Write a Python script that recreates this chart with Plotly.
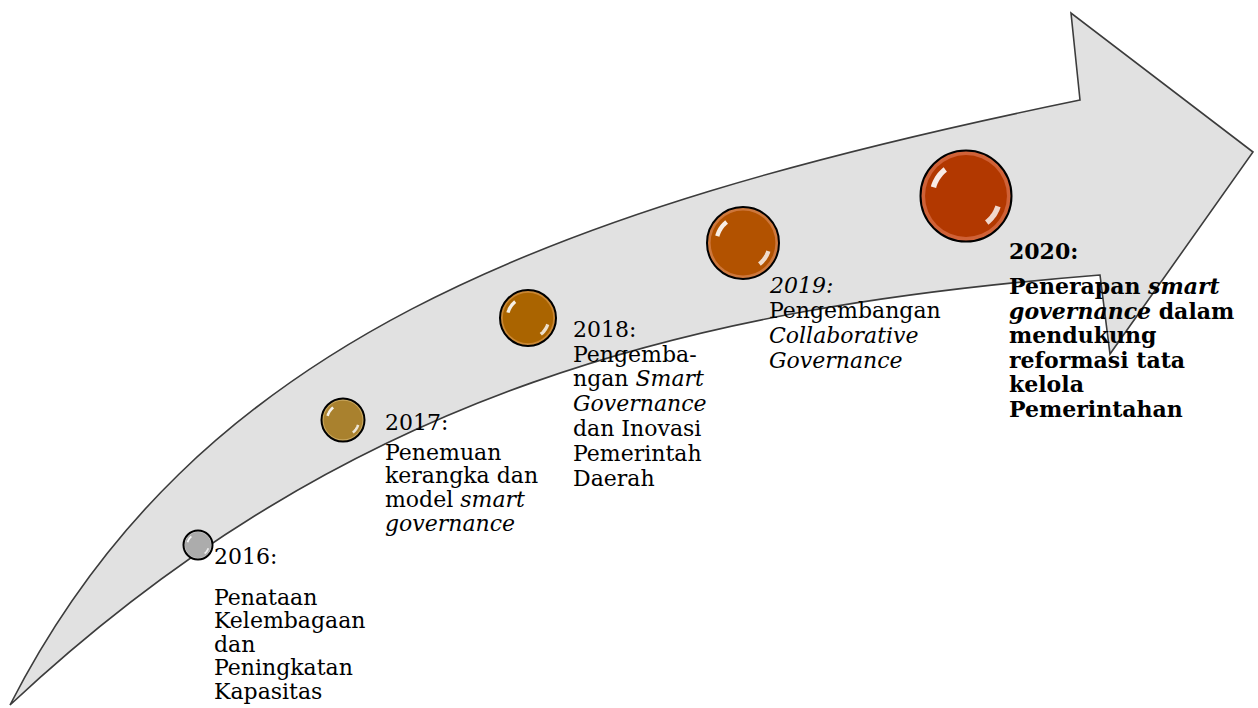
import numpy as np
import plotly.graph_objects as go

# ---------------- content ----------------
years = ["2016:", "2017:", "2018:", "<i>2019:</i>", "<b>2020:</b>"]
desc_2016 = ["Penataan", "Kelembagaan", "dan", "Peningkatan", "Kapasitas"]
desc_2017 = ["Penemuan", "kerangka dan", "model <i>smart</i>", "<i>governance</i>"]
desc_2018 = ["Pengemba-", "ngan <i>Smart</i>", "<i>Governance</i>", "dan Inovasi", "Pemerintah", "Daerah"]
desc_2019 = ["Pengembangan", "<i>Collaborative</i>", "<i>Governance</i>"]
desc_2020 = ["<b>Penerapan <i>smart</i></b>", "<b><i>governance</i> dalam</b>", "<b>mendukung</b>",
             "<b>reformasi tata</b>", "<b>kelola</b>", "<b>Pemerintahan</b>"]
descriptions = [desc_2016, desc_2017, desc_2018, desc_2019, desc_2020]

# ---------------- layout / style ----------------
W, H = 1258, 708
FONT = "DejaVu Serif"
FS = 22

sphere_x = [198, 343, 528, 743, 966]
sphere_y = [545, 420, 318, 243, 196]
sphere_r = [14.5, 21.5, 28, 36, 45.5]
sphere_col = ["#acacac", "#a9812e", "#aa6400", "#b25200", "#b23800"]
sphere_rim = ["#d6d6d6", "#caa85e", "#cc8a38", "#d07a40", "#d2643a"]

text_x = [212, 383, 571, 767, 1007]
year_y = [556, 422, 329, 285, 251]
desc_y0 = [597, 452, 354, 310, 286]
line_gap = [23.6, 23.8, 24.9, 25.2, 24.6]

# arrow geometry (pixel space): cubic Bezier edges + straight arrow head
upper_bez = [(10, 705), (194, 345), (540, 211), (1080, 100)]
head_pts = [(1071, 13), (1253, 152), (1110, 354), (1100, 275)]
lower_bez = [(1100, 275), (700, 307), (351, 386), (10, 705)]

path = "M {},{} C {},{} {},{} {},{}".format(*[v for p in upper_bez for v in p])
path += " L " + " L ".join(f"{x},{y}" for x, y in head_pts)
path += " C {},{} {},{} {},{} Z".format(*[v for p in lower_bez[1:] for v in p])

shapes = [dict(type="path", path=path, xref="x", yref="y", layer="below",
               fillcolor="#e1e1e1", line=dict(color="#3c3c3c", width=1.6))]


def arc(cx, cy, rho, a0, a1, n=12):
    a = np.radians(np.linspace(a0, a1, n))
    xs = cx + rho * np.cos(a)
    ys = cy - rho * np.sin(a)
    return "M " + " L ".join(f"{x:.1f},{y:.1f}" for x, y in zip(xs, ys))


for cx, cy, r in zip(sphere_x, sphere_y, sphere_r):
    w = max(1.8, r * 0.12)
    shapes.append(dict(type="path", path=arc(cx, cy, r * 0.74, 128, 165), xref="x", yref="y",
                       layer="above", line=dict(color="rgba(255,255,255,0.9)", width=w)))
    shapes.append(dict(type="path", path=arc(cx, cy, r * 0.74, -52, -18), xref="x", yref="y",
                       layer="above", line=dict(color="rgba(255,255,255,0.8)", width=w)))

fig = go.Figure()
# outer sphere: soft rim glow toward the edge
fig.add_trace(go.Scatter(
    x=sphere_x, y=sphere_y, mode="markers", hoverinfo="skip",
    marker=dict(size=[2 * r for r in sphere_r], color=sphere_rim,
                gradient=dict(type="radial", color=sphere_col),
                line=dict(color="#000000", width=2), opacity=1),
))
# inner flat body
fig.add_trace(go.Scatter(
    x=sphere_x, y=sphere_y, mode="markers", hoverinfo="skip",
    marker=dict(size=[1.8 * r for r in sphere_r], color=sphere_col,
                line=dict(width=0), opacity=1),
))

annotations = []
for i in range(len(years)):
    annotations.append(dict(x=text_x[i], y=year_y[i], text=years[i], showarrow=False,
                            xanchor="left", yanchor="middle", xref="x", yref="y",
                            font=dict(family=FONT, size=FS, color="#000000")))
    for j, line in enumerate(descriptions[i]):
        annotations.append(dict(x=text_x[i], y=desc_y0[i] + j * line_gap[i], text=line,
                                showarrow=False, xanchor="left", yanchor="middle",
                                xref="x", yref="y",
                                font=dict(family=FONT, size=FS, color="#000000")))

fig.update_layout(
    width=W, height=H, autosize=False,
    margin=dict(l=0, r=0, t=0, b=0),
    paper_bgcolor="#ffffff", plot_bgcolor="#ffffff",
    showlegend=False,
    xaxis=dict(range=[0, W], visible=False, fixedrange=True),
    yaxis=dict(range=[H, 0], visible=False, fixedrange=True),
    shapes=shapes, annotations=annotations,
)

fig.write_html("out.html", config={"displayModeBar": False},
               post_script="document.body.style.margin='0';")
